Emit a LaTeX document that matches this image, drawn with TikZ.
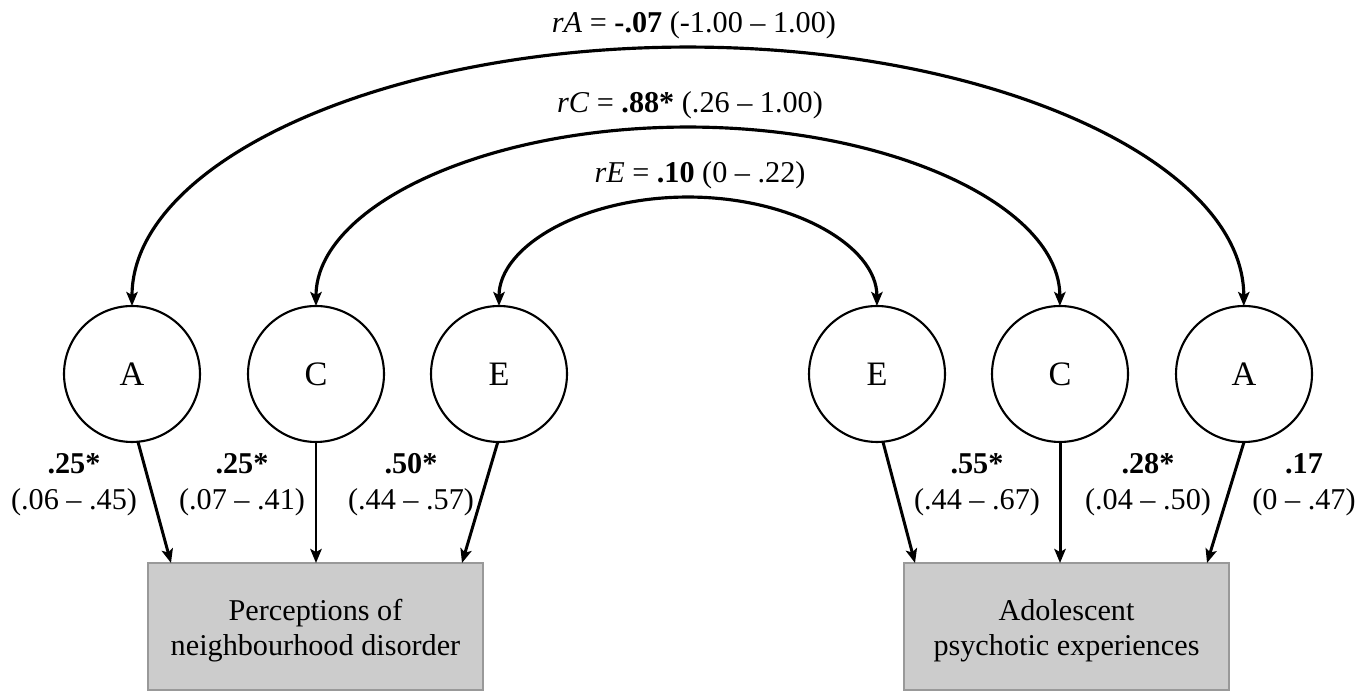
\documentclass[tikz,border=0pt]{standalone}
\usepackage{fontspec}
\setmainfont{Liberation Serif}
\usetikzlibrary{arrows.meta}
\begin{document}
\begin{tikzpicture}[x=0.02cm,y=0.02cm,
  lat/.style={circle,draw=black,line width=1.2pt,minimum size=2.72cm,inner sep=0pt,outer sep=0pt,font=\fontsize{19.5}{22}\selectfont},
  obs/.style={rectangle,draw=black!40,line width=1.1pt,fill=black!20,minimum height=2.54cm,inner sep=0pt,outer sep=0pt},
  boxtext/.style={align=center,inner sep=0pt,font=\fontsize{17.2}{20}\selectfont},
  lbl/.style={align=center,inner sep=0pt,font=\fontsize{17.2}{20.5}\selectfont},
  toplbl/.style={anchor=base,inner sep=0pt,font=\fontsize{17.2}{20.5}\selectfont},
  path/.style={-{Stealth[length=8pt,width=6.5pt,inset=1.8pt]},line width=1.7pt},
  corr/.style={{Stealth[length=8pt,width=6.5pt,inset=1.8pt]}-{Stealth[length=8pt,width=6.5pt,inset=1.8pt]},line width=1.8pt}]
\useasboundingbox (0,0) rectangle (1372,692);
% latent factors
\node[lat] (lA) at (132,318) {A};
\node[lat] (lC) at (316,318) {C};
\node[lat] (lE) at (499,318) {E};
\node[lat] (rE) at (877,318) {E};
\node[lat] (rC) at (1060,318) {C};
\node[lat] (rA) at (1244,318) {A};
% observed boxes
\node[obs,minimum width=6.7cm] (lbox) at (315.5,65.5) {};
\node[obs,minimum width=6.5cm] (rbox) at (1066.5,65.5) {};
\node[boxtext] (lboxt) at (315.5,61) {Perceptions of\\neighbourhood disorder};
\node[boxtext] (rboxt) at (1066.5,61) {Adolescent\\psychotic experiences};
% arrow targets
\coordinate (tlA) at (171,129);
\coordinate (tlC) at (316,129);
\coordinate (tlE) at (462,129);
\coordinate (trE) at (915,129);
\coordinate (trC) at (1060,129);
\coordinate (trA) at (1207,129);
\draw[path] (lA.-85) -- (tlA);
\draw[path] (lC.south) -- (tlC);
\draw[path] (lE.-91) -- (tlE);
\draw[path] (rE.-85) -- (trE);
\draw[path] (rC.south) -- (trC);
\draw[path] (rA.south) -- (trA);
% path labels
\node[lbl] (p1) at (74,207) {\textbf{.25*}\\(.06 -- .45)};
\node[lbl] (p2) at (242,207) {\textbf{.25*}\\(.07 -- .41)};
\node[lbl] (p3) at (411,207) {\textbf{.50*}\\(.44 -- .57)};
\node[lbl] (p4) at (977,207) {\textbf{.55*}\\(.44 -- .67)};
\node[lbl] (p5) at (1148,207) {\textbf{.28*}\\(.04 -- .50)};
\node[lbl] (p6) at (1304,207) {\textbf{.17}\\(0 -- .47)};
% correlations
\draw[corr] (lA.north) arc[start angle=180,end angle=0,x radius=11.12cm,y radius=5.18cm];
\draw[corr] (lC.north) arc[start angle=180,end angle=0,x radius=7.44cm,y radius=3.58cm];
\draw[corr] (lE.north) arc[start angle=180,end angle=0,x radius=3.78cm,y radius=2.18cm];
\node[toplbl] (rAl) at (694,659) {\textit{rA} = \textbf{-.07} (-1.00 -- 1.00)};
\node[toplbl] (rCl) at (690,579) {\textit{rC} = \textbf{.88*} (.26 -- 1.00)};
\node[toplbl] (rEl) at (700,509) {\textit{rE} = \textbf{.10} (0 -- .22)};
\end{tikzpicture}
\end{document}
